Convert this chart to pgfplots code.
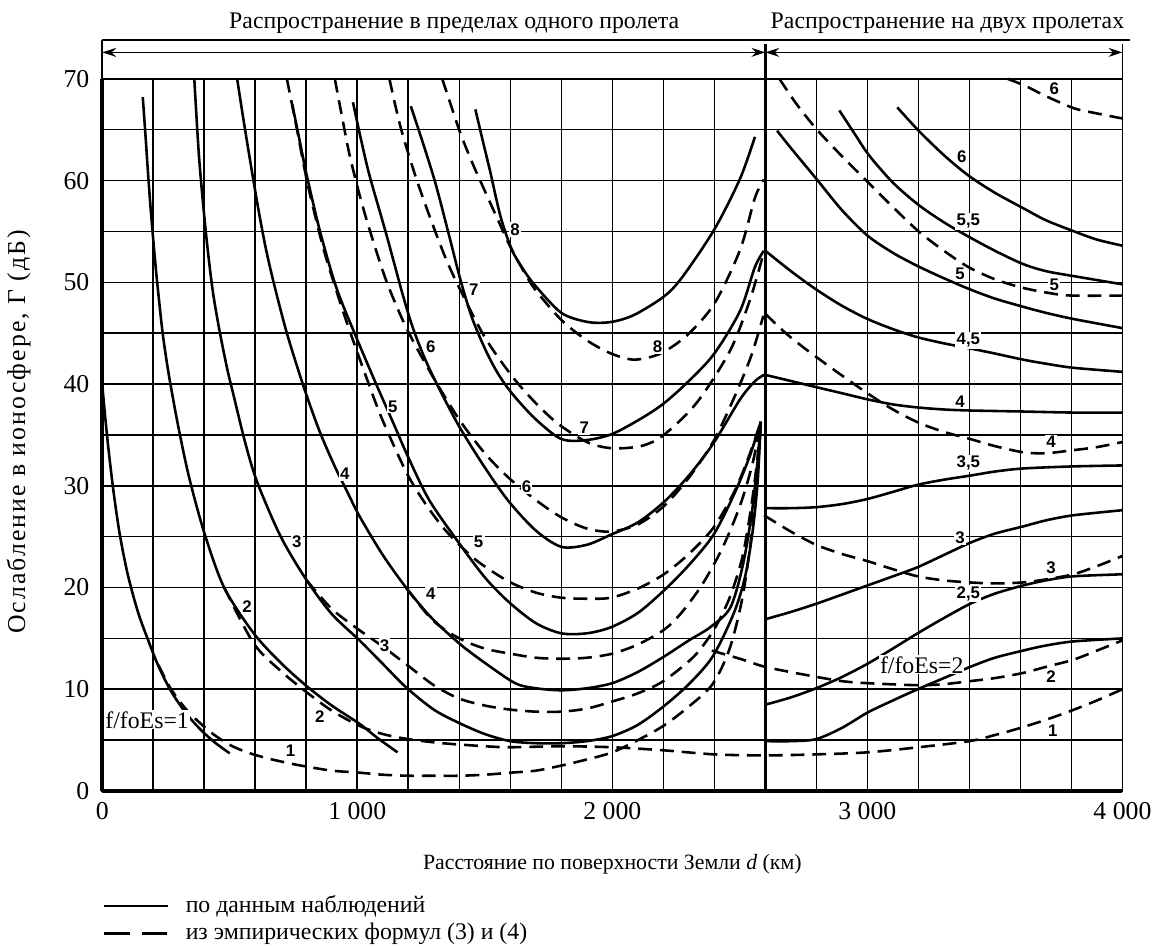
\documentclass[border=0pt]{standalone}
\usepackage{fontspec}
\setmainfont{Liberation Serif}
\newfontfamily\curvefont{Liberation Sans}
\usepackage{pgfplots}
\pgfplotsset{compat=1.18}
\usetikzlibrary{arrows.meta}

\begin{document}
\begin{tikzpicture}[
  obs/.style={black, line width=1.3pt, smooth, tension=0.5},
  emp/.style={black, line width=1.3pt, smooth, tension=0.5, dash pattern=on 7pt off 4pt},
  clab/.style={font=\curvefont\bfseries\fontsize{8.5}{9}\selectfont, fill=white, inner sep=0.6pt},
  txt/.style={font=\fontsize{12}{14}\selectfont},
]
\begin{axis}[
  width=515pt, height=359.5pt, scale only axis,
  xmin=0, xmax=4000, ymin=0, ymax=70,
  xtick={0,1000,2000,3000,4000},
  xticklabels={0,1~000,2~000,3~000,4~000},
  ytick={0,10,20,30,40,50,60,70},
  yticklabels={0,10,20,30,40,50,60,70},
  minor xtick={200,400,600,800,1200,1400,1600,1800,2200,2400,2600,2800,3200,3400,3600,3800},
  minor ytick={5,15,25,35,45,55,65},
  grid=both,
  major grid style={black, line width=0.8pt},
  minor grid style={black, line width=0.8pt},
  major tick length=0pt, minor tick length=0pt,
  axis line style={line width=0.8pt},
  tick label style={font=\fontsize{13}{15}\selectfont},
  xticklabel style={yshift=-2pt},
  yticklabel style={xshift=-3pt},
  clip=false,
]

% ---------- one hop: observed (solid) ----------
\addplot[obs] coordinates {(0,40) (10,37.2) (25,33.5) (45,29.3) (69,25.2) (100,21.3) (140,17.6) (179,14.9) (220,12.3) (270,9.8) (330,7.6) (387,6.0) (440,4.8) (500,3.7)};
\addplot[obs] coordinates {(159,68.2) (170,64.3) (180,60.6) (190,57.2) (200,54.2) (210,51.4) (220,48.9) (237,45.0) (256,41.7) (276,38.8) (300,35.6) (340,30.9) (400,25.4) (478,20.0) (594,15.5) (700,12.6) (802,10.3) (900,8.4) (1009,6.6) (1080,5.2) (1158,3.8)};
\addplot[obs] coordinates {(361,70) (380,62.2) (406,55) (432,49.4) (458,45.5) (490,41.5) (516,38.8) (560,34.3) (607,30.4) (700,25) (802,20.7) (900,17.4) (1009,14.8) (1100,12.5) (1191,10.2) (1300,8.0) (1398,6.7) (1500,5.6) (1600,4.9) (1700,4.7) (1800,4.7) (1900,4.9) (2000,5.4) (2100,6.5) (2200,8.3) (2300,10.5) (2393,13.2) (2475,17.4) (2520,21) (2550,25.5) (2570,30.5) (2582,36.3)};
\addplot[obs] coordinates {(529,70) (555,65.8) (581,61.8) (610,57.5) (640,53.5) (672,50) (724,45) (789,39.8) (850,35.5) (910,32) (957,29.6) (1009,27) (1100,23.2) (1191,20.0) (1288,17.1) (1400,14.5) (1500,12.6) (1619,10.6) (1700,10.1) (1800,9.9) (1900,10.1) (2000,10.6) (2100,11.7) (2202,13.2) (2300,14.8) (2384,16.1) (2462,18) (2510,22) (2545,27) (2568,32) (2582,36.3)};
\addplot[obs] coordinates {(745,67.5) (775,63.8) (802,60.5) (854,55.0) (919,49.4) (996,44.6) (1074,40.0) (1139,36.3) (1200,32.8) (1282,28.6) (1398,24.4) (1500,21.0) (1593,18.6) (1700,16.5) (1800,15.5) (1900,15.5) (1995,16.1) (2100,17.5) (2202,19.7) (2300,22.2) (2397,25.2) (2480,29.3) (2540,33) (2582,36.3)};
\addplot[obs] coordinates {(983,67.7) (1015,64.0) (1048,60.5) (1113,54.8) (1178,48.8) (1217,45.6) (1260,42.8) (1308,40.2) (1398,35.9) (1500,31.8) (1593,28.5) (1700,25.6) (1800,24.0) (1900,24.2) (1995,25.2) (2100,26.4) (2202,28.4) (2300,31.0) (2397,34.2) (2501,38.5) (2560,40.3) (2595,40.9)};
\addplot[obs] coordinates {(1210,67.3) (1260,63.5) (1308,59.6) (1360,54.6) (1405,50.2) (1450,46.5) (1502,43.4) (1550,41.1) (1606,39.1) (1697,36.6) (1800,34.6) (1900,34.5) (2000,35.1) (2112,36.6) (2202,38.1) (2300,40.3) (2400,43.0) (2501,47.2) (2559,51.5) (2594,53.1)};
\addplot[obs] coordinates {(1463,67.0) (1495,63.6) (1522,60.8) (1545,58.2) (1567,56.0) (1606,53.2) (1650,51.3) (1697,49.7) (1800,47.0) (1904,46.1) (1995,46.1) (2086,46.8) (2202,48.6) (2274,50.5) (2400,55.2) (2501,60.2) (2559,64.3)};

% ---------- one hop: empirical (dashed) ----------
\addplot[emp] coordinates {(220,12.4) (270,10.0) (330,8.0) (387,6.6) (440,5.5) (503,4.5) (568,3.8) (650,3.2) (738,2.7) (802,2.4) (900,2.0) (1009,1.8) (1100,1.6) (1200,1.5) (1300,1.5) (1400,1.5) (1500,1.6) (1600,1.8) (1700,2.0) (1800,2.5) (1900,3.1) (2000,3.8) (2100,5.0) (2200,6.4) (2300,8.3) (2393,10.5) (2460,14) (2510,19) (2545,25) (2568,31) (2582,36.3)};
\addplot[emp] coordinates {(478,20.0) (594,14.5) (700,11.8) (802,9.7) (900,7.9) (1009,6.4) (1100,5.6) (1200,5.1) (1333,4.7) (1500,4.4) (1600,4.3) (1800,4.4) (2000,4.3) (2200,4.0) (2400,3.6) (2600,3.5) (2800,3.6) (3000,3.8) (3200,4.3) (3400,4.9) (3500,5.5) (3600,6.2) (3700,7.0) (3800,7.9) (3900,8.9) (4000,10.0)};
\addplot[emp] coordinates {(802,20.7) (900,17.9) (1009,15.8) (1100,14.2) (1200,12.3) (1300,10.4) (1398,9.1) (1500,8.4) (1600,8.0) (1700,7.8) (1800,7.8) (1900,8.1) (2000,8.8) (2100,9.6) (2200,10.8) (2319,13.2) (2397,15.8) (2460,19) (2510,23) (2545,28) (2568,32.5) (2582,36.3)};
\addplot[emp] coordinates {(1191,20.0) (1295,16.8) (1400,15.0) (1500,14.0) (1600,13.5) (1700,13.1) (1800,13.0) (1900,13.1) (2000,13.5) (2100,14.4) (2200,15.8) (2267,17.4) (2350,20.2) (2430,23.8) (2500,28) (2550,32.2) (2582,36.3)};
\addplot[emp] coordinates {(724,70) (760,65.5) (800,60.3) (840,56.0) (879,52.3) (957,46.2) (1048,39.8) (1100,36.4) (1191,31.4) (1260,28.5) (1333,26.0) (1400,24.2) (1476,22.5) (1593,20.6) (1700,19.5) (1800,19.0) (1900,18.9) (1995,19.0) (2100,19.9) (2202,21.3) (2300,23.3) (2397,25.9) (2480,29.5) (2540,33.2) (2582,36.3)};
\addplot[emp] coordinates {(912,70) (940,66.3) (970,62.5) (1010,58.5) (1048,55.2) (1113,50.2) (1191,45.6) (1290,41.0) (1400,36.5) (1500,33.2) (1593,30.8) (1700,28.6) (1800,26.9) (1900,25.8) (1995,25.5) (2100,26.2) (2202,28.0) (2300,30.8) (2397,34.4) (2480,38.8) (2545,42.8) (2592,46.7)};
\addplot[emp] coordinates {(1126,70) (1150,67.3) (1178,64.5) (1230,60.3) (1282,56.6) (1346,52.4) (1405,49.2) (1500,44.6) (1606,40.8) (1697,38.2) (1787,36.1) (1900,34.3) (1995,33.7) (2112,33.9) (2202,35.0) (2332,38.2) (2462,43.3) (2540,48.3) (2590,52.6)};
\addplot[emp] coordinates {(1333,70) (1370,67.2) (1405,64.6) (1450,61.8) (1489,59.6) (1554,56.0) (1600,53.5) (1650,51.2) (1697,49.3) (1800,46.3) (1900,44.3) (1995,43.0) (2086,42.4) (2189,43.0) (2293,44.8) (2400,47.9) (2501,53.2) (2559,58.3) (2594,60.1)};

% ---------- two hops: observed (solid) ----------
\addplot[obs] coordinates {(2602,4.9) (2700,4.9) (2799,5.1) (2900,6.2) (3000,7.7) (3100,8.9) (3197,10.0) (3300,11.1) (3403,12.2) (3500,13.1) (3610,13.8) (3700,14.3) (3807,14.7) (4000,15.0)};
\addplot[obs] coordinates {(2602,8.5) (2700,9.2) (2799,10.1) (2900,11.2) (3000,12.5) (3100,14.0) (3197,15.5) (3300,17.0) (3403,18.4) (3500,19.4) (3610,20.2) (3700,20.7) (3807,21.1) (4000,21.3)};
\addplot[obs] coordinates {(2602,16.9) (2700,17.6) (2799,18.4) (2900,19.3) (3000,20.2) (3100,21.1) (3197,22.0) (3300,23.2) (3403,24.4) (3500,25.3) (3610,26.0) (3700,26.6) (3807,27.1) (4000,27.6)};
\addplot[obs] coordinates {(2600,27.8) (2700,27.8) (2799,27.9) (2900,28.2) (3000,28.7) (3100,29.4) (3197,30.1) (3300,30.6) (3403,31.0) (3500,31.4) (3610,31.7) (3800,31.9) (4000,32.0)};
\addplot[obs] coordinates {(2600,40.9) (2700,40.3) (2799,39.7) (2900,39.1) (3000,38.5) (3100,38.0) (3197,37.7) (3300,37.5) (3403,37.4) (3610,37.3) (3800,37.2) (4000,37.2)};
\addplot[obs] coordinates {(2600,53.1) (2700,51.1) (2799,49.3) (2900,47.7) (3000,46.4) (3100,45.4) (3197,44.6) (3300,44.0) (3403,43.5) (3500,43.0) (3610,42.4) (3700,42.0) (3807,41.6) (4000,41.2)};
\addplot[obs] coordinates {(2646,64.9) (2700,63.2) (2799,60.2) (2900,57.1) (3000,54.6) (3100,52.9) (3197,51.6) (3300,50.4) (3403,49.3) (3500,48.4) (3610,47.6) (3700,47.0) (3807,46.4) (4000,45.5)};
\addplot[obs] coordinates {(2890,66.9) (2950,64.6) (3006,62.5) (3100,59.8) (3201,57.6) (3300,55.9) (3396,54.5) (3500,53.1) (3610,51.8) (3700,51.1) (3811,50.6) (4000,49.8)};
\addplot[obs] coordinates {(3117,67.2) (3201,64.9) (3300,62.5) (3396,60.5) (3500,58.8) (3610,57.3) (3700,56.1) (3811,55.0) (3900,54.2) (4000,53.6)};

% ---------- two hops: empirical (dashed) ----------
\addplot[emp] coordinates {(2390,13.8) (2500,13.0) (2600,12.2) (2760,11.4) (2900,10.8) (3000,10.6) (3197,10.4) (3300,10.5) (3403,10.8) (3500,11.1) (3610,11.6) (3700,12.2) (3807,12.9) (3900,13.8) (4000,14.8)};
\addplot[emp] coordinates {(2595,27.1) (2700,25.5) (2799,24.2) (2900,23.3) (3000,22.6) (3100,21.8) (3197,21.1) (3300,20.7) (3403,20.5) (3500,20.4) (3610,20.5) (3700,20.8) (3807,21.3) (3900,22.1) (4000,23.1)};
\addplot[emp] coordinates {(2600,46.9) (2680,45.0) (2760,43.4) (2880,41.2) (3000,39.1) (3100,37.5) (3201,36.2) (3300,35.3) (3403,34.6) (3500,33.9) (3610,33.3) (3700,33.2) (3807,33.5) (3900,33.8) (4000,34.3)};
\addplot[emp] coordinates {(2655,70) (2720,67.6) (2799,65.1) (2900,62.4) (3000,59.9) (3100,57.4) (3201,55.0) (3300,53.1) (3396,51.5) (3500,50.3) (3603,49.5) (3700,49.0) (3798,48.7) (4000,48.7)};
\addplot[emp] coordinates {(3550,70) (3620,69.3) (3700,68.3) (3811,67.1) (3900,66.6) (4000,66.1)};

% ---------- frame details ----------
\draw[line width=2pt] (axis cs:0,0) -- (axis cs:0,70);
\draw[line width=2pt] (axis cs:0,0) -- (axis cs:4000,0);
\draw[line width=1.2pt] (axis cs:2600,0) -- (axis cs:2600,73.4);
\draw[line width=0.8pt] (axis cs:0,70) -- (axis cs:0,73.8);
\draw[line width=0.8pt] (axis cs:4000,70) -- (axis cs:4000,73.4);
\draw[line width=0.9pt] (axis cs:0,73.8) -- (axis cs:4030,73.8);
\draw[line width=0.8pt, {Stealth[length=7pt,width=4.5pt]}-{Stealth[length=7pt,width=4.5pt]}] (axis cs:0,72.6) -- (axis cs:2600,72.6);
\draw[line width=0.8pt, {Stealth[length=7pt,width=4.5pt]}-{Stealth[length=7pt,width=4.5pt]}] (axis cs:2600,72.6) -- (axis cs:4000,72.6);
\node[txt] at (axis cs:1380,75.45) {Распространение в пределах одного пролета};
\node[txt] at (axis cs:3314,75.45) {Распространение на двух пролетах};

% ---------- curve labels ----------
\node[txt, fill=white, inner sep=0.5pt] at (axis cs:176,7.0) {f/foEs=1};
\node[txt, fill=white, inner sep=0.5pt] at (axis cs:3213,12.4) {f/foEs=2};
\node[clab] at (axis cs:738,4.0) {1};
\node[clab] at (axis cs:568,18.1) {2};
\node[clab] at (axis cs:853,7.3) {2};
\node[clab] at (axis cs:763,24.5) {3};
\node[clab] at (axis cs:1107,14.3) {3};
\node[clab] at (axis cs:951,31.2) {4};
\node[clab] at (axis cs:1288,19.4) {4};
\node[clab] at (axis cs:1139,37.8) {5};
\node[clab] at (axis cs:1476,24.5) {5};
\node[clab] at (axis cs:1288,43.7) {6};
\node[clab] at (axis cs:1664,29.9) {6};
\node[clab] at (axis cs:1457,49.3) {7};
\node[clab] at (axis cs:1890,35.7) {7};
\node[clab] at (axis cs:1619,55.2) {8};
\node[clab] at (axis cs:2177,43.7) {8};
\node[clab] at (axis cs:3727,5.9) {1};
\node[clab] at (axis cs:3720,11.2) {2};
\node[clab] at (axis cs:3396,19.4) {2,5};
\node[clab] at (axis cs:3363,24.9) {3};
\node[clab] at (axis cs:3720,21.9) {3};
\node[clab] at (axis cs:3396,32.2) {3,5};
\node[clab] at (axis cs:3363,38.3) {4};
\node[clab] at (axis cs:3720,34.3) {4};
\node[clab] at (axis cs:3396,44.3) {4,5};
\node[clab] at (axis cs:3363,50.8) {5};
\node[clab] at (axis cs:3733,49.8) {5};
\node[clab] at (axis cs:3396,56.0) {5,5};
\node[clab] at (axis cs:3370,62.3) {6};
\node[clab] at (axis cs:3733,69.0) {6};

% ---------- axis titles and key ----------
\node[font=\fontsize{13}{15}\selectfont\addfontfeature{LetterSpace=8}, rotate=90] at (axis cs:-328,35.3) {Ослабление в ионосфере, Г (дБ)};
\node[font=\fontsize{11}{13}\selectfont] at (axis cs:2000,-7.2) {Расстояние по поверхности Земли \textit{d} (км)};
\draw[line width=1.2pt] (axis cs:7,-11.3) -- (axis cs:256,-11.3);
\node[txt, anchor=west, inner sep=0pt] at (axis cs:326,-11.3) {по данным наблюдений};
\draw[line width=1.2pt, dash pattern=on 13pt off 6pt] (axis cs:7,-14.0) -- (axis cs:256,-14.0);
\node[txt, anchor=west, inner sep=0pt] at (axis cs:326,-14.0) {из эмпирических формул (3) и (4)};
\end{axis}
\path (current axis.south west) ++(-48.65pt,-78.5pt);
\path (current axis.north east) ++(15.5pt,39.8pt);
\end{tikzpicture}
\end{document}
